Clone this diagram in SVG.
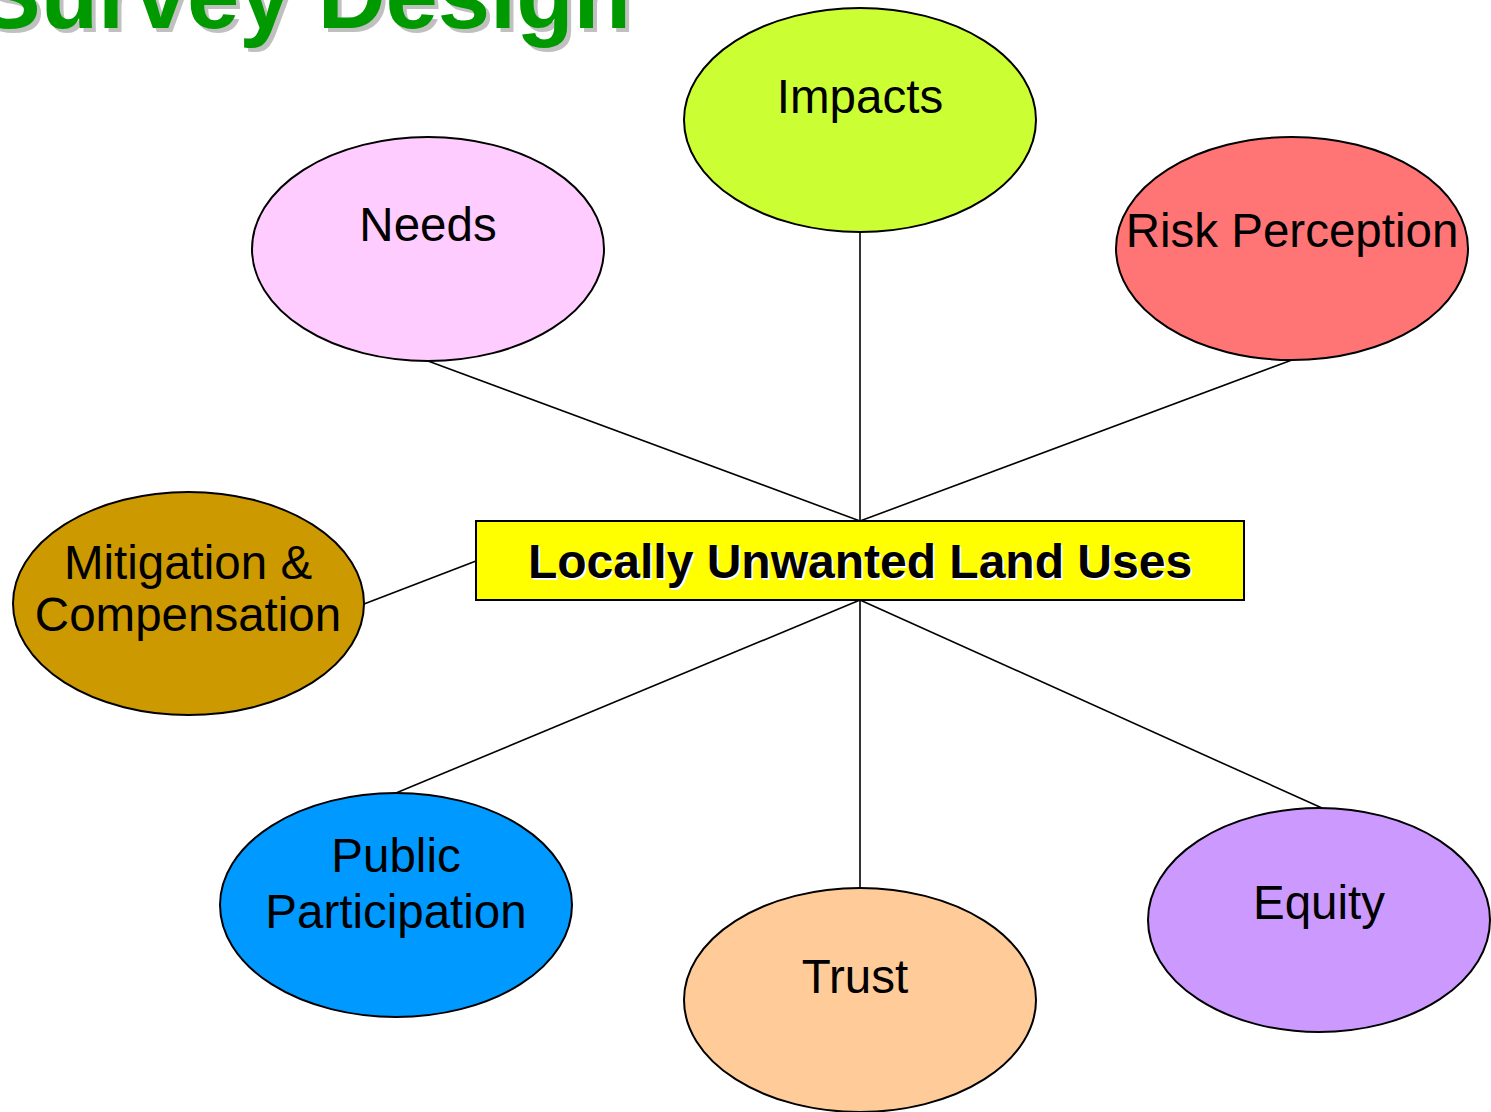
<svg xmlns="http://www.w3.org/2000/svg" width="1491" height="1112" viewBox="0 0 1491 1112">
<style>
.node ellipse{stroke:#000;stroke-width:2}
.lbl{font-family:"Liberation Sans",Arial,sans-serif;font-size:47.5px;fill:#000;text-anchor:middle}
.conn line{stroke:#000;stroke-width:1.6}
.title{font-family:"Liberation Sans",Arial,sans-serif;font-weight:bold;font-size:94px}
.center{font-family:"Liberation Sans",Arial,sans-serif;font-weight:bold;font-size:48px;text-anchor:middle}
</style>
<rect width="1491" height="1112" fill="#fff"/>
<g id="title">
<text class="title" x="-18" y="32" fill="#c0c0c0">Survey Design</text>
<text class="title" x="-22" y="28" fill="#009900">Survey Design</text>
</g>
<g id="connectors" class="conn">
<line x1="860" y1="521" x2="860" y2="232"/>
<line x1="860" y1="521" x2="428" y2="361"/>
<line x1="860" y1="521" x2="1292" y2="360"/>
<line x1="476" y1="561" x2="364" y2="604"/>
<line x1="860" y1="600" x2="396" y2="793"/>
<line x1="860" y1="600" x2="860" y2="888"/>
<line x1="860" y1="600" x2="1322" y2="808"/>
</g>
<g id="impacts" class="node">
<ellipse cx="860" cy="120" rx="176" ry="112" fill="#ccff33"/>
<text class="lbl" x="860" y="113">Impacts</text>
</g>
<g id="needs" class="node">
<ellipse cx="428" cy="249" rx="176" ry="112" fill="#ffccff"/>
<text class="lbl" x="428" y="241">Needs</text>
</g>
<g id="risk" class="node">
<ellipse cx="1292" cy="248.5" rx="176" ry="111.5" fill="#ff7575"/>
<text class="lbl" x="1292" y="247">Risk Perception</text>
</g>
<g id="mitigation" class="node">
<ellipse cx="188.5" cy="603.5" rx="175.5" ry="111.5" fill="#cc9900"/>
<text class="lbl" x="188" y="579">Mitigation &amp;</text>
<text class="lbl" x="188" y="631">Compensation</text>
</g>
<g id="lulu" class="node">
<rect x="476" y="521" width="768" height="79" fill="#ffff00" stroke="#000" stroke-width="2"/>
<text class="center" x="862" y="580" fill="#fff">Locally Unwanted Land Uses</text>
<text class="center" x="860" y="578" fill="#000">Locally Unwanted Land Uses</text>
</g>
<g id="public" class="node">
<ellipse cx="396" cy="905" rx="176" ry="112" fill="#0099ff"/>
<text class="lbl" x="396" y="872">Public</text>
<text class="lbl" x="396" y="928">Participation</text>
</g>
<g id="trust" class="node">
<ellipse cx="860" cy="1000" rx="176" ry="112" fill="#ffcc99"/>
<text class="lbl" x="855" y="993">Trust</text>
</g>
<g id="equity" class="node">
<ellipse cx="1319" cy="920" rx="171" ry="112" fill="#cc99ff"/>
<text class="lbl" x="1319" y="919">Equity</text>
</g>
</svg>
